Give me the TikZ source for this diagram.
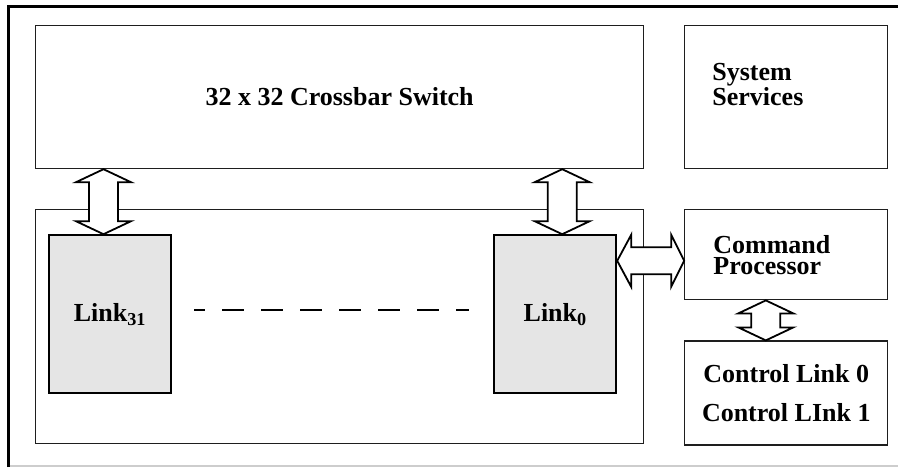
\documentclass[tikz,border=0pt]{standalone}
\usepackage{fontspec}
\setmainfont{Liberation Serif}
\usepackage{xcolor}
\usepackage{tikz}
\usetikzlibrary{positioning,calc}
\definecolor{LinkGray}{RGB}{229,229,229}
\definecolor{FrameGray}{RGB}{205,205,205}
\definecolor{BoxLine}{RGB}{30,30,30}

\newcommand{\vbus}[2]{%
\draw[bus] (#1) -- ++(27.5pt,-13pt) -- ++(-13pt,0pt) -- ([shift={(14.5pt,13pt)}]#2) -- ++(13pt,0pt)
  -- (#2) -- ++(-27.5pt,13pt) -- ++(13pt,0pt) -- ([shift={(-14.5pt,-13pt)}]#1) -- ++(-13pt,0pt) -- cycle;}
\newcommand{\hbus}[2]{%
\draw[bus] (#1) -- ++(14pt,26pt) -- ++(0pt,-12.5pt) -- ([shift={(-13pt,13.5pt)}]#2) -- ++(0pt,12.5pt)
  -- (#2) -- ++(-13pt,-26pt) -- ++(0pt,12.5pt) -- ([shift={(14pt,-13.5pt)}]#1) -- ++(0pt,-12.5pt) -- cycle;}

\begin{document}
\begin{tikzpicture}[
node distance=40pt and 40pt,
box/.style={
draw=BoxLine,
line width=1.2pt,
minimum width=203pt,
inner sep=0pt,
align=center,
font=\fontsize{26}{20}\selectfont\bfseries
},
link/.style={box,fill=LinkGray,draw=black,line width=2pt,minimum width=122pt,minimum height=158pt},
lbl/.style={inner sep=0pt,align=left,font=\fontsize{26}{21}\selectfont\bfseries},
bus/.style={draw=black,fill=white,line width=1.8pt,line join=miter},
gapline/.style={line width=2.5pt,dash pattern=on 22pt off 17pt,dash phase=11pt,shorten <=22pt,shorten >=24pt}
]
\useasboundingbox (0pt,0pt) rectangle (898pt,-467pt);

\draw[line width=3pt] (8pt,-467pt) |- (898pt,-6.5pt);
\draw[FrameGray,line width=1.5pt] (9.5pt,-466pt) -- (898pt,-466pt);

\node[box,minimum width=608pt,minimum height=143pt,anchor=north west] (crossbar) at (35pt,-25pt) {32 x 32 Crossbar Switch};
\node[box,minimum height=143pt,right=of crossbar] (services) {};
\node[lbl,anchor=north west] (services-text) at ([shift={(28pt,-38.5pt)}]services.north west) {System\\Services};

\node[box,minimum width=608pt,minimum height=234pt,below=of crossbar] (mid) {};
\node[link,anchor=north west] (link31) at ([shift={(13pt,-25pt)}]mid.north west) {Link\textsubscript{31}};
\node[link,anchor=north east] (link0) at ([shift={(-27pt,-25pt)}]mid.north east) {Link\textsubscript{0}};

\node[box,minimum height=90pt,right=of mid.north east,anchor=north west] (cmd) {};
\node[lbl,anchor=north west] (cmd-text) at ([shift={(29pt,-26.5pt)}]cmd.north west) {Command\\Processor};
\node[box,minimum height=104pt,below=of cmd,font=\fontsize{26}{39}\selectfont\bfseries] (ctrl) {Control Link 0\\Control LInk 1};

\draw[gapline] ([yshift=4pt]link31.east) -- ([yshift=4pt]link0.west);

\coordinate (b31-bot) at ([xshift=-6.5pt]link31.north);
\coordinate (b31-top) at (b31-bot |- crossbar.south);
\coordinate (b0-bot) at ([xshift=7pt]link0.north);
\coordinate (b0-top) at (b0-bot |- crossbar.south);
\coordinate (bc-top) at ([xshift=-20.5pt]cmd.south);
\coordinate (bc-bot) at ([xshift=-20.5pt]ctrl.north);
\coordinate (bh-right) at ([yshift=-6pt]cmd.west);
\coordinate (bh-left) at (link0.east |- bh-right);

\vbus{b31-top}{b31-bot}
\vbus{b0-top}{b0-bot}
\vbus{bc-top}{bc-bot}
\hbus{bh-left}{bh-right}
\end{tikzpicture}
\end{document}
